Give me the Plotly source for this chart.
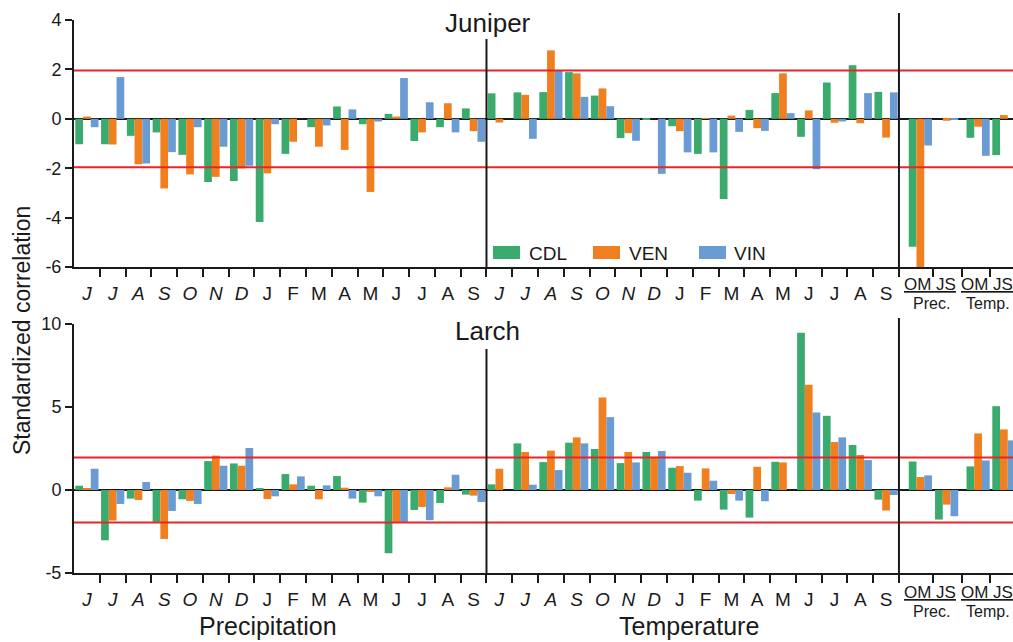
import plotly.graph_objects as go

# ---------------------------------------------------------------- data
species = ["CDL", "VEN", "VIN"]
month_labels = ["J", "J", "A", "S", "O", "N", "D", "J", "F", "M", "A", "M", "J", "J", "A", "S"]
prev_year = [True] * 7 + [False] * 9          # previous-year months shown in italics
season_labels = ["OM JS", "OM JS"]
season_groups = ["Prec.", "Temp."]

# Juniper: monthly precipitation, monthly temperature, seasonal (Prec OM, Prec JS, Temp OM, Temp JS)
jun_prec = {
    "CDL": [-1.03, -1.03, -0.69, -0.55, -1.46, -2.56, -2.52, -4.18, -1.42, -0.34, 0.50, -0.22, 0.20, -0.90, -0.34, 0.42],
    "VEN": [0.09, -1.04, -1.84, -2.82, -2.25, -2.35, -2.01, -2.21, -0.93, -1.13, -1.26, -2.96, 0.09, -0.55, 0.63, -0.50],
    "VIN": [-0.34, 1.69, -1.81, -1.35, -0.34, -1.13, -1.90, -0.22, 0.0, -0.27, 0.38, -0.11, 1.65, 0.67, -0.55, -0.93],
}
jun_temp = {
    "CDL": [1.03, 1.07, 1.08, 1.89, 0.94, -0.78, -0.04, -0.30, -1.42, -3.25, 0.36, 1.04, -0.73, 1.47, 2.17, 1.09],
    "VEN": [-0.15, 0.97, 2.77, 1.84, 1.23, -0.58, 0.0, -0.50, 0.03, 0.13, -0.38, 1.84, 0.34, -0.16, -0.18, -0.76],
    "VIN": [0.0, -0.81, 1.94, 0.89, 0.51, -0.89, -2.23, -1.36, -1.36, -0.53, -0.49, 0.23, -2.04, -0.11, 1.04, 1.07],
}
jun_season = {
    "CDL": [-5.18, 0.0, -0.77, -1.47],
    "VEN": [-6.0, -0.08, -0.32, 0.15],
    "VIN": [-1.08, -0.03, -1.50, 0.0],
}

# Larch
lar_prec = {
    "CDL": [0.26, -3.03, -0.52, -1.92, -0.56, 1.74, 1.60, 0.10, 0.96, 0.26, 0.84, -0.76, -3.81, -1.20, -0.78, -0.28],
    "VEN": [0.08, -1.84, -0.60, -2.95, -0.66, 2.07, 1.46, -0.54, 0.34, -0.56, 0.14, -0.12, -1.92, -1.02, 0.16, -0.34],
    "VIN": [1.28, -0.84, 0.48, -1.26, -0.84, 1.46, 2.53, -0.38, 0.82, 0.28, -0.52, -0.38, -1.92, -1.82, 0.92, -0.72],
}
lar_temp = {
    "CDL": [0.34, 2.81, 1.68, 2.85, 2.47, 1.62, 2.29, 1.34, -0.64, -1.18, -1.66, 1.70, 9.48, 4.47, 2.71, -0.58],
    "VEN": [1.28, 2.29, 2.37, 3.17, 5.57, 2.29, 2.00, 1.44, 1.30, -0.24, 1.40, 1.66, 6.34, 2.89, 2.11, -1.24],
    "VIN": [0.0, 0.32, 1.20, 2.81, 4.39, 1.66, 2.35, 1.04, 0.56, -0.64, -0.68, 0.0, 4.67, 3.17, 1.80, -0.30],
}
lar_season = {
    "CDL": [1.72, -1.78, 1.42, 5.05],
    "VEN": [0.78, -0.88, 3.41, 3.65],
    "VIN": [0.88, -1.58, 1.78, 2.99],
}

SIG = 1.96  # significance threshold

# ---------------------------------------------------------------- layout constants
W, H = 1013, 642
FONT = "Liberation Sans, Arial, sans-serif"
INK = "#1a1a1a"
colors = {"CDL": "#3aab6d", "VEN": "#f0801f", "VIN": "#6a9bd3"}
RED = "#e8262a"

X_LEFT_PX = 74
UNIT_PX = 25.78                      # pixels per monthly slot
XMAX = (W - X_LEFT_PX) / UNIT_PX
BW = 0.3                              # width of one bar in slot units

n_months = 2 * len(month_labels)
month_centers = [i + 0.5 for i in range(n_months)]
season_centers = [32.83, 33.85, 35.07, 36.07]
centers = month_centers + season_centers
boundaries = [i for i in range(1, n_months + 1)] + [33.32, 34.46, 35.55]


def px_y(py):
    return 1 - py / H


def px_x(px):
    return px / W


def label(text, px, py, size, **kw):
    d = dict(text=text, x=px_x(px), y=px_y(py), xref="paper", yref="paper",
             showarrow=False, xanchor="center", yanchor="middle",
             font=dict(family=FONT, size=size, color=INK))
    d.update(kw)
    return d


panels = [
    dict(xa="x", ya="y", prec=jun_prec, temp=jun_temp, season=jun_season,
         dom=[px_y(267), px_y(20)], rng=[-6, 4], ticks=[-6, -4, -2, 0, 2, 4],
         title="Juniper", title_y=23, lab_y=284, grp_y=303,
         div_tops=[39, 13], axis_px=267),
    dict(xa="x2", ya="y2", prec=lar_prec, temp=lar_temp, season=lar_season,
         dom=[px_y(573), px_y(324)], rng=[-5, 10], ticks=[-5, 0, 5, 10],
         title="Larch", title_y=331, lab_y=592, grp_y=611,
         div_tops=[349, 318], axis_px=573),
]

fig = go.Figure()

for p in panels:
    for k, sp in enumerate(species):
        vals = p["prec"][sp] + p["temp"][sp] + p["season"][sp]
        xs = [c + (k - 1) * BW for c in centers]
        fig.add_trace(go.Bar(
            x=xs, y=vals, width=BW, name=sp,
            marker=dict(color=colors[sp], line=dict(width=0)),
            xaxis=p["xa"], yaxis=p["ya"], showlegend=False,
        ))

ticktext = [f"<i>{m}</i>" if it else m for m, it in zip(month_labels, prev_year)] * 2

axis_common_x = dict(
    domain=[px_x(X_LEFT_PX), 1.0], range=[0, XMAX], automargin=False,
    showline=True, linecolor=INK, linewidth=2, showgrid=False, zeroline=False,
    tickmode="array", tickvals=month_centers, ticktext=ticktext,
    ticks="outside", ticklen=8, tickcolor="rgba(0,0,0,0)",
    tickfont=dict(family=FONT, size=19, color=INK),
    minor=dict(tickmode="array", tickvals=boundaries, ticks="outside",
               ticklen=8, tickwidth=2, tickcolor=INK, showgrid=False),
)

layout_axes = {}
for i, p in enumerate(panels):
    xname = "xaxis" if i == 0 else "xaxis2"
    yname = "yaxis" if i == 0 else "yaxis2"
    layout_axes[xname] = dict(axis_common_x, anchor=p["ya"])
    layout_axes[yname] = dict(
        domain=p["dom"], range=p["rng"], anchor=p["xa"], automargin=False,
        showline=True, linecolor=INK, linewidth=2, showgrid=False,
        zeroline=True, zerolinecolor=INK, zerolinewidth=1.5,
        tickmode="array", tickvals=p["ticks"], ticktext=[str(t) for t in p["ticks"]],
        ticks="outside", ticklen=7, tickwidth=2, tickcolor=INK,
        tickfont=dict(family=FONT, size=18, color=INK),
    )

shapes = []
annotations = []
for p in panels:
    # significance lines
    for s in (SIG, -SIG):
        shapes.append(dict(type="line", xref="paper", yref=p["ya"],
                           x0=px_x(X_LEFT_PX), x1=1.0, y0=s, y1=s,
                           line=dict(color=RED, width=2), layer="above"))
    # section dividers
    for xv, top in zip([16, 32], p["div_tops"]):
        shapes.append(dict(type="line", xref=p["xa"], yref="paper",
                           x0=xv, x1=xv, y0=px_y(p["axis_px"]), y1=px_y(top),
                           line=dict(color=INK, width=2), layer="above"))
    # panel title
    annotations.append(label(p["title"], 487.5, p["title_y"], 26))
    # seasonal labels
    for lab, grp, cx in zip(season_labels, season_groups, [930, 987]):
        annotations.append(label(f"<u>{lab}</u>", cx, p["lab_y"], 17))
        annotations.append(label(grp, cx + 1, p["grp_y"], 16))

# axis titles
annotations.append(label("Standardized correlation", 22, 331, 23, textangle=-90))
for txt, cx in [("Precipitation", 267.5), ("Temperature", 689)]:
    annotations.append(label(txt, cx, 626, 25))

# legend (drawn inside the Juniper panel)
for sp, rx, tx in zip(species, [493, 593, 699], [527, 627, 732]):
    shapes.append(dict(type="rect", xref="paper", yref="paper",
                       x0=px_x(rx), x1=px_x(rx + 27), y0=px_y(259), y1=px_y(246),
                       fillcolor=colors[sp], line=dict(width=0)))
    annotations.append(label(sp, tx, 253, 19, xanchor="left"))

fig.update_layout(
    width=W, height=H, margin=dict(l=0, r=0, t=0, b=0, pad=0, autoexpand=False),
    paper_bgcolor="white", plot_bgcolor="white",
    barmode="overlay", showlegend=False,
    font=dict(family=FONT, color=INK),
    shapes=shapes, annotations=annotations,
    **layout_axes,
)

fig.write_html("out.html")
